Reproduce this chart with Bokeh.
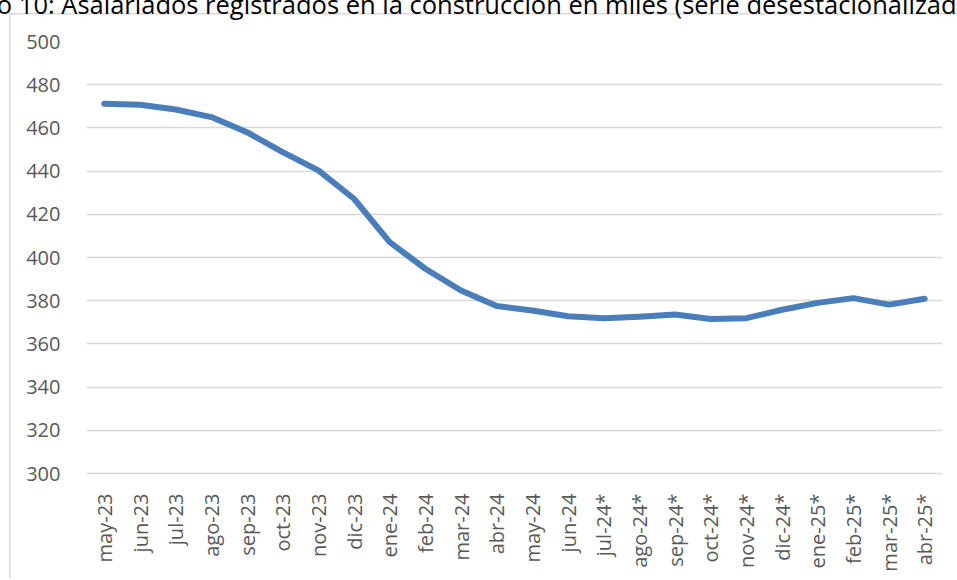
import math
from bokeh.plotting import figure
from bokeh.models import FixedTicker
from bokeh.embed import file_html
from bokeh.resources import INLINE

months = ["may-23", "jun-23", "jul-23", "ago-23", "sep-23", "oct-23", "nov-23", "dic-23",
          "ene-24", "feb-24", "mar-24", "abr-24", "may-24", "jun-24", "jul-24*", "ago-24*",
          "sep-24*", "oct-24*", "nov-24*", "dic-24*", "ene-25*", "feb-25*", "mar-25*", "abr-25*"]
asalariados = [471.2, 470.7, 468.5, 465.0, 458.0, 448.8, 440.3, 427.2,
               407.1, 394.8, 384.7, 377.5, 375.5, 372.8, 371.9, 372.6,
               373.6, 371.5, 371.9, 375.8, 379.0, 381.2, 378.2, 380.9]
y_ticks = [300, 320, 340, 360, 380, 400, 420, 440, 460, 480, 500]
title_text = "Gráfico 10: Asalariados registrados en la construcción en miles (serie desestacionalizada)"

FONT = "Open Sans"
GRID = "#d9d9d9"
T = 45  # part of the canvas pushed above the page top (title is cut like the reference)

p = figure(x_range=months, y_range=(300, 500), width=957, height=623,
           output_backend="svg", toolbar_location=None,
           min_border_left=86, min_border_right=15, min_border_top=41 + T,
           min_border_bottom=623 - (41 + T) - 432)
p.styles = {
    "margin-top": f"-{T}px",
    "background-color": "white",
    "background-image": f"linear-gradient({GRID}, {GRID}), linear-gradient({GRID}, {GRID})",
    "background-size": "1.5px 100%, 100% 1.5px",
    "background-position": f"9px {13 + T}px, 9px {13 + T}px",
    "background-repeat": "no-repeat",
}
p.outline_line_color = None
p.background_fill_color = "white"
p.border_fill_color = None

p.title.text = title_text
p.title.text_font = FONT
p.title.text_font_size = "25.5px"
p.title.text_font_style = "normal"
p.title.text_color = "black"
p.title.align = "left"
p.title.offset = -160
p.title.standoff = 42

p.line(x=months, y=asalariados, line_color="#4a7ebb", line_width=6, line_cap="round", line_join="round")

p.yaxis.ticker = FixedTicker(ticks=y_ticks)
p.yaxis.axis_line_color = None
p.yaxis.major_tick_line_color = None
p.yaxis.minor_tick_line_color = None
p.yaxis.major_label_text_font = FONT
p.yaxis.major_label_text_font_size = "20px"
p.yaxis.major_label_text_color = "#595959"
p.yaxis.major_label_standoff = 20

p.xaxis.axis_line_color = GRID
p.xaxis.axis_line_width = 1.5
p.xaxis.major_tick_line_color = None
p.xaxis.minor_tick_line_color = None
p.xaxis.major_label_orientation = math.pi / 2
p.xaxis.major_label_text_font = FONT
p.xaxis.major_label_text_font_size = "20px"
p.xaxis.major_label_text_color = "#595959"
p.xaxis.major_label_standoff = 14

p.xgrid.grid_line_color = None
p.ygrid.grid_line_color = GRID
p.ygrid.grid_line_width = 1.5

open("out.html", "w").write(file_html(p, INLINE))
